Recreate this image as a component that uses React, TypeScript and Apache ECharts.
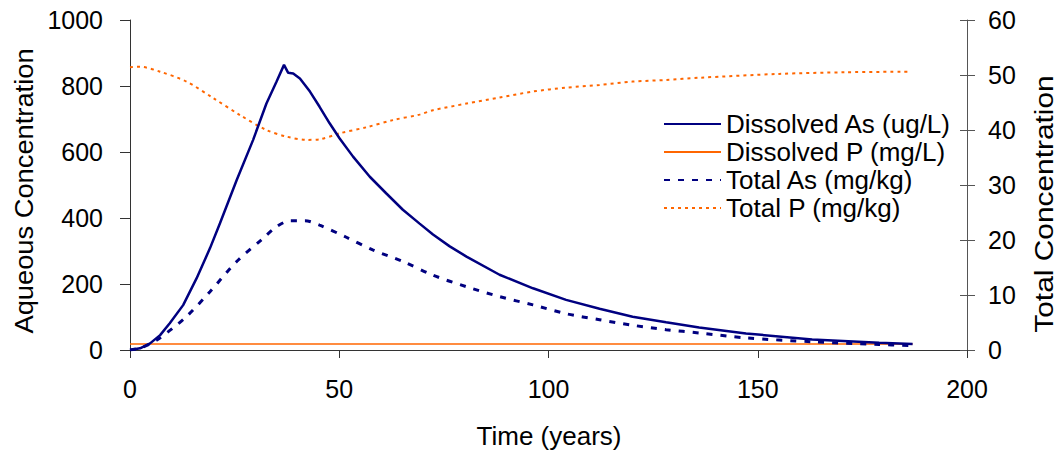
import React, { useEffect, useRef } from "react";
import * as echarts from "echarts";

const FONT = "'Liberation Sans', Arial, sans-serif";

const xTicks = [0, 50, 100, 150, 200];
const leftTicks = [0, 200, 400, 600, 800, 1000];
const rightTicks = [0, 10, 20, 30, 40, 50, 60];

const dissolvedAsT = [0, 2.4, 4.8, 7.2, 9.5, 12.7, 15.9, 19.1, 21.5, 25.5, 29.4, 32.6, 35, 36.8, 37.8, 39, 40.6, 43, 45.3, 47.7, 50.1, 53.3, 57.3, 61.2, 65.2, 69.2, 72.4, 76.4, 80.4, 88.3, 96.3, 104.2, 112.2, 120.1, 128.1, 136, 147.2, 163, 179, 187];
const dissolvedAsV = [0, 5, 20, 45, 81, 136, 217, 308, 384, 515, 636, 747, 813, 864, 840, 838, 823, 783, 737, 687, 641, 586, 525, 475, 425, 383, 350, 314, 283, 228, 187, 152, 125, 101, 84, 68, 50, 32, 22, 18];

const dissolvedPT = [0, 187];
const dissolvedPV = [18, 18];

const totalAsT = [0, 3, 6.4, 13.1, 19.1, 25.5, 31.8, 35, 38.2, 41.8, 45.3, 51.7, 58, 65.2, 72.4, 80.4, 88.3, 96.3, 104.2, 112.2, 120.1, 128.1, 136, 147.2, 163, 179, 186];
const totalAsV = [0, 0.5, 1.8, 5.8, 10.6, 16.1, 20.3, 22.4, 23.5, 23.5, 22.7, 20.5, 18.2, 16.1, 13.6, 11.5, 9.7, 8.2, 6.6, 5.5, 4.5, 3.7, 3.1, 2.2, 1.5, 1.0, 0.8];

const totalPT = [0, 2.4, 7.2, 13.5, 19.9, 26.3, 32.6, 37.4, 42.2, 45.3, 50.1, 56.5, 62.8, 69.2, 72.4, 80.4, 88.3, 96.3, 104.2, 112.2, 120.1, 128.1, 136, 155.1, 171, 186];
const totalPV = [51.4, 51.5, 50.6, 48.8, 45.8, 42.7, 40, 38.8, 38.2, 38.3, 39.4, 40.5, 41.8, 42.8, 43.6, 44.8, 45.9, 47, 47.7, 48.2, 48.8, 49.1, 49.5, 50.2, 50.5, 50.6];

const seriesNames = ["Dissolved As (ug/L)", "Dissolved P (mg/L)", "Total As (mg/kg)", "Total P (mg/kg)"];
const axisTitles = ["Aqueous Concentration", "Total Concentration", "Time (years)"];

const pairs = (t: number[], v: number[]) => t.map((x, i) => [x, v[i]]);

const titleStyle = (text: string) => ({
  text,
  fontSize: 26,
  fontFamily: FONT,
  fill: "#000",
  align: "center",
  verticalAlign: "middle",
  textAlign: "center",
  textVerticalAlign: "middle",
});

export default function App() {
  const ref = useRef<HTMLDivElement>(null);
  useEffect(() => {
    if (!ref.current) return;
    const chart = echarts.init(ref.current, undefined, { renderer: "svg" });
    const NAVY = "#000080";
    const ORANGE = "#FF6600";
    const AXIS = "#333";
    chart.setOption({
      animation: false,
      backgroundColor: "#ffffff",
      textStyle: { fontFamily: FONT, color: "#000" },
      grid: { left: 130, right: 95, top: 20, bottom: 106, containLabel: false },
      xAxis: {
        type: "value",
        min: xTicks[0],
        max: xTicks[xTicks.length - 1],
        interval: xTicks[1] - xTicks[0],
        axisLine: { show: true, lineStyle: { color: AXIS, width: 1 } },
        axisTick: { show: true, length: 8, lineStyle: { color: AXIS } },
        axisLabel: { fontSize: 25, color: "#000", margin: 26, fontFamily: FONT },
        splitLine: { show: false },
      },
      yAxis: [
        {
          type: "value",
          min: leftTicks[0],
          max: leftTicks[leftTicks.length - 1],
          interval: leftTicks[1] - leftTicks[0],
          position: "left",
          axisLine: { show: true, lineStyle: { color: AXIS, width: 1 } },
          axisTick: { show: true, length: 10, lineStyle: { color: AXIS } },
          axisLabel: { fontSize: 25, color: "#000", margin: 27, fontFamily: FONT, formatter: (v: number) => String(v) },
          splitLine: { show: false },
        },
        {
          type: "value",
          min: rightTicks[0],
          max: rightTicks[rightTicks.length - 1],
          interval: rightTicks[1] - rightTicks[0],
          position: "right",
          axisLine: { show: true, lineStyle: { color: "#555", width: 1 } },
          axisTick: { show: true, length: 8, lineStyle: { color: "#555" } },
          axisLabel: { fontSize: 25, color: "#000", margin: 21, fontFamily: FONT },
          splitLine: { show: false },
        },
        {
          type: "value",
          min: rightTicks[0],
          max: rightTicks[rightTicks.length - 1],
          interval: rightTicks[1] - rightTicks[0],
          position: "right",
          axisLine: { show: false },
          axisTick: { show: true, inside: true, length: 7, lineStyle: { color: "#555" } },
          axisLabel: { show: false },
          splitLine: { show: false },
        },
      ],
      legend: {
        orient: "vertical",
        left: 663,
        top: 110,
        padding: 0,
        itemGap: 0,
        itemWidth: 57,
        itemHeight: 14,
        itemStyle: { opacity: 0 },
        textStyle: { fontSize: 26, lineHeight: 28, color: "#000", fontFamily: FONT },
        data: seriesNames.map((n) => ({ name: n })),
      },
      graphic: [
        { type: "text", x: 24, y: 191, rotation: Math.PI / 2, scaleX: 1.05, style: titleStyle(axisTitles[0]) },
        { type: "text", x: 1044, y: 204, rotation: Math.PI / 2, scaleX: 1.15, style: titleStyle(axisTitles[1]) },
        { type: "text", x: 549, y: 436, style: titleStyle(axisTitles[2]) },
      ],
      series: [
        {
          name: seriesNames[0],
          type: "line",
          yAxisIndex: 0,
          symbol: "none",
          data: pairs(dissolvedAsT, dissolvedAsV),
          lineStyle: { color: NAVY, width: 2.5 },
          itemStyle: { color: NAVY },
          z: 4,
        },
        {
          name: seriesNames[1],
          type: "line",
          yAxisIndex: 0,
          symbol: "none",
          data: pairs(dissolvedPT, dissolvedPV),
          lineStyle: { color: ORANGE, width: 1.5 },
          itemStyle: { color: ORANGE },
          z: 3,
        },
        {
          name: seriesNames[2],
          type: "line",
          yAxisIndex: 1,
          symbol: "none",
          smooth: 0.3,
          data: pairs(totalAsT, totalAsV),
          lineStyle: { color: NAVY, width: 3, type: [6, 8] },
          itemStyle: { color: NAVY },
          z: 3,
        },
        {
          name: seriesNames[3],
          type: "line",
          yAxisIndex: 1,
          symbol: "none",
          smooth: 0.3,
          data: pairs(totalPT, totalPV),
          lineStyle: { color: ORANGE, width: 2, type: [3, 4] },
          itemStyle: { color: ORANGE },
          z: 3,
        },
      ],
    });
    return () => chart.dispose();
  }, []);
  return (
    <div
      ref={ref}
      style={{ position: "absolute", left: 0, top: 0, width: 1062, height: 456, background: "#fff" }}
    />
  );
}
